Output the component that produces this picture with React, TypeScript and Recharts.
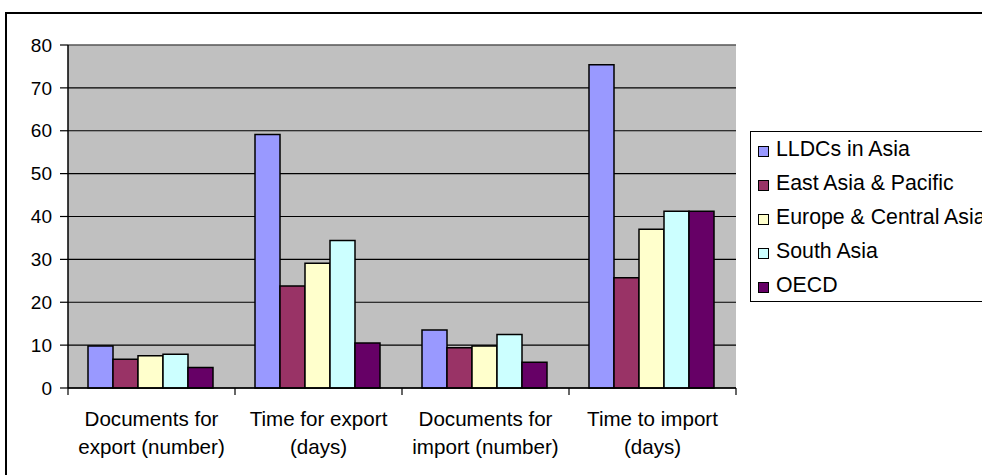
import React from "react";
import {
  BarChart,
  Bar,
  XAxis,
  YAxis,
  CartesianGrid,
  ReferenceLine,
} from "recharts";

// Trade indicators by region
const categories = [
  "Documents for export (number)",
  "Time for export (days)",
  "Documents for import (number)",
  "Time to import (days)",
];
const categoryLines = [
  ["Documents for", "export (number)"],
  ["Time for export", "(days)"],
  ["Documents for", "import (number)"],
  ["Time to import", "(days)"],
];

const lldcAsia = [9.8, 59.1, 13.5, 75.4];
const eastAsiaPacific = [6.7, 23.8, 9.4, 25.7];
const europeCentralAsia = [7.5, 29.1, 9.8, 37.0];
const southAsia = [7.9, 34.4, 12.5, 41.2];
const oecd = [4.8, 10.5, 6.0, 41.2];

const yTicks = [0, 10, 20, 30, 40, 50, 60, 70, 80];

const series = [
  { key: "lldc", name: "LLDCs in Asia", color: "#9999FF", values: lldcAsia },
  { key: "eap", name: "East Asia & Pacific", color: "#993366", values: eastAsiaPacific },
  { key: "eca", name: "Europe & Central Asia", color: "#FFFFCC", values: europeCentralAsia },
  { key: "sa", name: "South Asia", color: "#CCFFFF", values: southAsia },
  { key: "oecd", name: "OECD", color: "#660066", values: oecd },
];

const data = categories.map((c, i) => {
  const row: Record<string, string | number> = { category: c };
  series.forEach((s) => {
    row[s.key] = s.values[i];
  });
  return row;
});

const FONT = "'Liberation Sans', Arial, sans-serif";

// Category labels on two lines, plus the tick marks at the band edges
const CategoryTick = (props: any) => {
  const { x, y, payload, index } = props;
  const half = payload && typeof payload.offset === "number" ? payload.offset : 0;
  const lines = categoryLines[index] || [String(payload.value)];
  return (
    <g>
      {half > 0 && (
        <line x1={x - half} x2={x - half} y1={y} y2={y + 7} stroke="#000" strokeWidth={1.2} />
      )}
      {half > 0 && index === categories.length - 1 && (
        <line x1={x + half} x2={x + half} y1={y} y2={y + 7} stroke="#000" strokeWidth={1.2} />
      )}
      {lines.map((t: string, i: number) => (
        <text
          key={i}
          x={x}
          y={y + 38 + i * 28}
          textAnchor="middle"
          fontFamily={FONT}
          fontSize={20.6}
          fill="#000"
        >
          {t}
        </text>
      ))}
    </g>
  );
};

const LegendBox = () => (
  <div
    style={{
      position: "absolute",
      left: 750,
      top: 131,
      width: 260,
      height: 171,
      border: "1.5px solid #000",
      background: "#fff",
      fontFamily: FONT,
      fontSize: 21.3,
      boxSizing: "border-box",
    }}
  >
    {series.map((s) => (
      <div
        key={s.key}
        style={{
          height: 34,
          display: "flex",
          alignItems: "center",
          whiteSpace: "nowrap",
          marginTop: s.key === "lldc" ? 0 : 0,
        }}
      >
        <span
          style={{
            display: "inline-block",
            width: 9,
            height: 9,
            border: "1px solid #000",
            background: s.color,
            marginLeft: 7,
            marginRight: 7,
            marginTop: 4,
          }}
        />
        <span>{s.name}</span>
      </div>
    ))}
  </div>
);

export default function App() {
  return (
    <div
      style={{
        position: "absolute",
        left: 0,
        top: 0,
        width: 982,
        height: 475,
        overflow: "hidden",
        background: "#fff",
      }}
    >
      <div
        style={{
          position: "absolute",
          left: 5,
          top: 12,
          width: 1200,
          height: 700,
          border: "2px solid #000",
        }}
      />
      <div style={{ position: "absolute", left: 0, top: 0 }}>
        <BarChart
          width={982}
          height={475}
          data={data}
          margin={{ top: 45, right: 246, bottom: 0, left: 28 }}
          barCategoryGap={20}
          barGap={0}
        >
          <CartesianGrid
            vertical={false}
            stroke="#000"
            strokeWidth={1.2}
            fill="#C0C0C0"
            fillOpacity={1}
          />
          <XAxis
            dataKey="category"
            height={87}
            tickLine={false}
            tickSize={0}
            tickMargin={0}
            axisLine={{ stroke: "#000", strokeWidth: 1.5 }}
            tick={<CategoryTick />}
            interval={0}
          />
          <YAxis
            width={40}
            domain={[0, 80]}
            ticks={yTicks}
            interval={0}
            tickSize={8}
            tickMargin={8}
            axisLine={{ stroke: "#000", strokeWidth: 1.5 }}
            tickLine={{ stroke: "#000", strokeWidth: 1.2 }}
            tick={{ fontFamily: FONT, fontSize: 19, fill: "#000" }}
          />
          <YAxis
            yAxisId="frame"
            orientation="right"
            width={0}
            tick={false}
            tickLine={false}
            axisLine={{ stroke: "#808080", strokeWidth: 1.2 }}
          />
          <ReferenceLine y={80} stroke="#808080" strokeWidth={1.2} />
          {series.map((s) => (
            <Bar
              key={s.key}
              dataKey={s.key}
              name={s.name}
              fill={s.color}
              stroke="#000"
              strokeWidth={1.5}
              isAnimationActive={false}
            />
          ))}
        </BarChart>
      </div>
      <LegendBox />
    </div>
  );
}
